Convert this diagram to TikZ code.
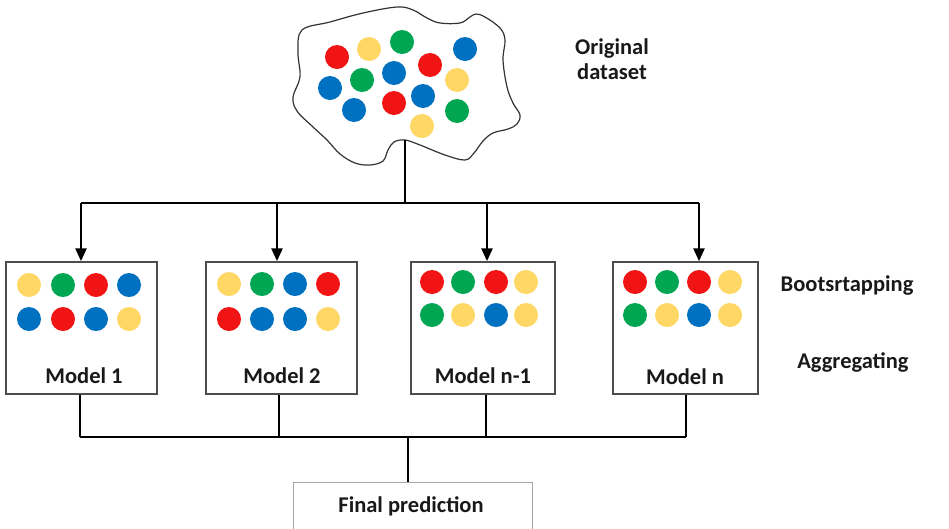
\documentclass[tikz,border=0pt]{standalone}
\usepackage{fontspec}
\setmainfont{Carlito}
\usetikzlibrary{arrows.meta}
\definecolor{dred}{RGB}{240,20,20}
\definecolor{dgreen}{RGB}{0,166,81}
\definecolor{dblue}{RGB}{0,112,192}
\definecolor{dyellow}{RGB}{255,215,100}
\definecolor{txt}{RGB}{25,25,25}
\tikzset{
  modelbox/.style={draw=black!70, line width=1.5pt, fill=white, minimum height=132pt, inner sep=0pt},
  lbl/.style={font=\fontsize{22.5}{27}\selectfont\bfseries, text=txt, align=center, inner sep=0pt},
  conn/.style={line width=2.6pt, black},
  arr/.style={conn, -{Triangle[length=13pt,width=11pt]}},
  dot/.style={radius=12pt}
}
\begin{document}
\begin{tikzpicture}[x=1pt,y=-1pt]
\useasboundingbox (0,0) rectangle (949,528);
\clip (0,0) rectangle (949,528);
% cloud
\draw[black!80, line width=1.2pt, fill=white] plot[smooth cycle, tension=0.6] coordinates {
 (302,30) (330,22) (363,13) (397,7) (413,10) (427,18) (440,23) (460,23) (470,17) (476,14) (485,17) (500,28) (505,40) (503,60) (507,87) (513,103) (520,115) (517,124) (508,129) (493,133) (483,141) (474,153) (465,160) (445,155) (420,145) (405,140) (394,142) (388,150) (383,161) (370,165) (355,163) (340,154) (327,140) (313,127) (297,111) (293,97) (300,77) (298,52)};
\coordinate (cb) at (405,140);
% cloud dots
\fill[dred] (337,57) circle[dot];
\fill[dyellow] (369,49) circle[dot];
\fill[dgreen] (402,42) circle[dot];
\fill[dblue] (465,49) circle[dot];
\fill[dblue] (330,88) circle[dot];
\fill[dgreen] (362,80) circle[dot];
\fill[dblue] (394,73) circle[dot];
\fill[dred] (430,65) circle[dot];
\fill[dyellow] (457,80) circle[dot];
\fill[dblue] (354,110) circle[dot];
\fill[dred] (394,103) circle[dot];
\fill[dblue] (423,96) circle[dot];
\fill[dgreen] (457,111) circle[dot];
\fill[dyellow] (422,126) circle[dot];
\node[lbl] (orig) at (612,59) {Original\\[-2pt]dataset};
% model boxes
\node[modelbox, minimum width=151pt] (m1) at (81.5,328) {};
\node[modelbox, minimum width=151pt] (m2) at (281.5,328) {};
\node[modelbox, minimum width=144pt] (m3) at (483,328) {};
\node[modelbox, minimum width=145pt] (m4) at (685.5,328) {};
\node[lbl] (t1) at (84,376) {Model 1};
\node[lbl] (t2) at (282,376) {Model 2};
\node[lbl] (t3) at (483,376) {Model n-1};
\node[lbl] (t4) at (685,377) {Model n};
% dots model 1
\fill[dyellow] (29,285) circle[dot]; \fill[dgreen] (63,285) circle[dot]; \fill[dred] (96,285) circle[dot]; \fill[dblue] (129,285) circle[dot];
\fill[dblue] (29,319) circle[dot]; \fill[dred] (63,319) circle[dot]; \fill[dblue] (96,319) circle[dot]; \fill[dyellow] (129,319) circle[dot];
% model 2
\fill[dyellow] (229,284) circle[dot]; \fill[dgreen] (262,284) circle[dot]; \fill[dblue] (295,284) circle[dot]; \fill[dred] (328,284) circle[dot];
\fill[dred] (229,319) circle[dot]; \fill[dblue] (262,319) circle[dot]; \fill[dblue] (295,319) circle[dot]; \fill[dyellow] (328,319) circle[dot];
% model n-1
\fill[dred] (432,282) circle[dot]; \fill[dgreen] (463,282) circle[dot]; \fill[dred] (496,282) circle[dot]; \fill[dyellow] (526,282) circle[dot];
\fill[dgreen] (432,315) circle[dot]; \fill[dyellow] (463,315) circle[dot]; \fill[dblue] (496,315) circle[dot]; \fill[dyellow] (526,315) circle[dot];
% model n
\fill[dred] (635,282) circle[dot]; \fill[dgreen] (667,282) circle[dot]; \fill[dred] (699,282) circle[dot]; \fill[dyellow] (730,282) circle[dot];
\fill[dgreen] (635,315) circle[dot]; \fill[dyellow] (667,315) circle[dot]; \fill[dblue] (699,315) circle[dot]; \fill[dyellow] (730,315) circle[dot];
% side labels
\node[lbl] (boot) at (847,286) {Bootsrtapping};
\node[lbl] (agg) at (853,362) {Aggregating};
% final prediction
\node[draw=black!35, line width=1pt, fill=white, minimum width=239pt, minimum height=48pt, inner sep=0pt] (fp) at (412.5,506) {};
\node[lbl] (fpt) at (411,506) {Final prediction};
% top connectors
\coordinate (j) at (405,203);
\coordinate (a1) at (81,203);
\coordinate (a2) at (277,203);
\coordinate (a3) at (487,203);
\coordinate (a4) at (699,203);
\draw[conn] (cb) -- (j);
\draw[conn] (a1) -- (a4);
\draw[arr] (a1) -- (a1 |- m1.north);
\draw[arr] (a2) -- (a2 |- m2.north);
\draw[arr] (a3) -- (a3 |- m3.north);
\draw[arr] (a4) -- (a4 |- m4.north);
% bottom connectors
\coordinate (b1) at (80,437);
\coordinate (b2) at (279,437);
\coordinate (b3) at (486,437);
\coordinate (b4) at (686,437);
\coordinate (bj) at (408,437);
\draw[conn] (b1 |- m1.south) -- (b1);
\draw[conn] (b2 |- m2.south) -- (b2);
\draw[conn] (b3 |- m3.south) -- (b3);
\draw[conn] (b4 |- m4.south) -- (b4);
\draw[conn] (b1) -- (b4);
\draw[conn] (bj) -- (bj |- fp.north);
\end{tikzpicture}
\end{document}
